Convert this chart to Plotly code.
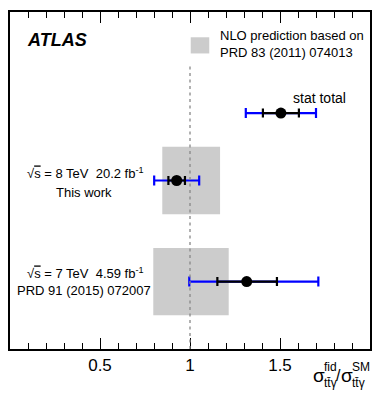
import plotly.graph_objects as go

# --- data ---
labels = ["8 TeV", "7 TeV"]
ratio = [0.926, 1.315]
stat_up = [0.046, 0.168]
stat_dn = [0.046, 0.163]
tot_up = [0.125, 0.398]
tot_dn = [0.125, 0.319]
nlo_lo = [0.846, 0.796]
nlo_hi = [1.167, 1.215]
row_y = [5.0, 2.0]

leg_val = [1.505]
leg_stat = [0.10]
leg_tot = [0.195]
leg_y = [7.0]

tick_vals = [0.5, 1.0, 1.5]
tick_text = ["0.5", "1", "1.5"]

FONT = "Liberation Sans, Arial, sans-serif"
BLUE = "#0000ff"
GRAY = "#cccccc"

fig = go.Figure()

# NLO boxes
for lo, hi, y in zip(nlo_lo, nlo_hi, row_y):
    fig.add_shape(type="rect", x0=lo, x1=hi, y0=y - 1, y1=y + 1,
                  fillcolor=GRAY, line=dict(width=0), layer="below")

# dashed line at 1
fig.add_shape(type="line", x0=1, x1=1, y0=0, y1=8.45,
              line=dict(color="#888888", width=1.3, dash="3px,3.5px"), layer="above")

# total error (blue)
fig.add_trace(go.Scatter(x=ratio + leg_val, y=row_y + leg_y, mode="markers",
                         marker=dict(size=1, color="rgba(0,0,0,0)"),
                         error_x=dict(type="data", symmetric=False,
                                      array=tot_up + leg_tot, arrayminus=tot_dn + leg_tot,
                                      color=BLUE, thickness=2.2, width=5),
                         showlegend=False, hoverinfo="skip"))
# stat error (black)
fig.add_trace(go.Scatter(x=ratio + leg_val, y=row_y + leg_y, mode="markers",
                         marker=dict(size=11, color="black"),
                         error_x=dict(type="data", symmetric=False,
                                      array=stat_up + leg_stat, arrayminus=stat_dn + leg_stat,
                                      color="black", thickness=2.2, width=4.5),
                         showlegend=False, hoverinfo="skip"))

# legend box
fig.add_shape(type="rect", x0=1.004, x1=1.107, y0=8.77, y1=9.25,
              fillcolor=GRAY, line=dict(width=0))

ann = []
def A(text, x, y, size, xanchor="left", yanchor="middle", xref="x", yref="y", **kw):
    ann.append(dict(text=text, x=x, y=y, xref=xref, yref=yref, showarrow=False,
                    xanchor=xanchor, yanchor=yanchor,
                    font=dict(family=FONT, size=size, color="black"), **kw))

A("<b><i>ATLAS</i></b>", 0.085, 9.17, 18)
A("NLO prediction based on<br>PRD 83 (2011) 074013", 1.153, 9.05, 13, align="left")
A("stat total", 1.875, 7.45, 14, xanchor="right")
A("√<span style='text-decoration:overline'>s</span> = 8 TeV  20.2 fb<sup>-1</sup>", 0.085, 5.22, 13)
A("This work", 0.245, 4.64, 13)
A("√<span style='text-decoration:overline'>s</span> = 7 TeV  4.59 fb<sup>-1</sup>", 0.085, 2.26, 13)
A("PRD 91 (2015) 072007", 0.03, 1.73, 13)

# axis title built from pieces (paper coords, plot area x 10..370, y 12..349 px)
def px2x(p):
    return (p - 10) / 360.0
def py2y(p):
    return (349 - p) / 337.0
def T(text, px, py, size):
    A(text, px2x(px), py2y(py), size, xref="paper", yref="paper")
T("σ", 311, 375, 19)
T("fid", 322, 367, 12)
T("tt̄γ", 322, 383, 12)
T("/", 334, 375, 16)
T("σ", 339, 375, 19)
T("SM", 350, 367, 12)
T("tt̄γ", 350, 383, 12)

# page body has an 8px margin, so the figure is 8px smaller than the window
fig.update_layout(
    width=374, height=394,
    margin=dict(l=2, r=12, t=4, b=53),
    paper_bgcolor="white", plot_bgcolor="white",
    annotations=ann,
    xaxis=dict(range=[0, 2], tickvals=tick_vals, ticktext=tick_text,
               ticks="inside", ticklen=11, tickwidth=1, tickcolor="black",
               minor=dict(dtick=0.1, tick0=0, ticks="inside", ticklen=6, tickwidth=1, tickcolor="black"),
               showline=True, linecolor="black", linewidth=1.5, mirror="ticks",
               showgrid=False, zeroline=False,
               tickfont=dict(family=FONT, size=17, color="black")),
    yaxis=dict(range=[0, 10], showticklabels=False, ticks="",
               showline=True, linecolor="black", linewidth=1.5, mirror=True,
               showgrid=False, zeroline=False),
)

fig.write_html("out.html")
